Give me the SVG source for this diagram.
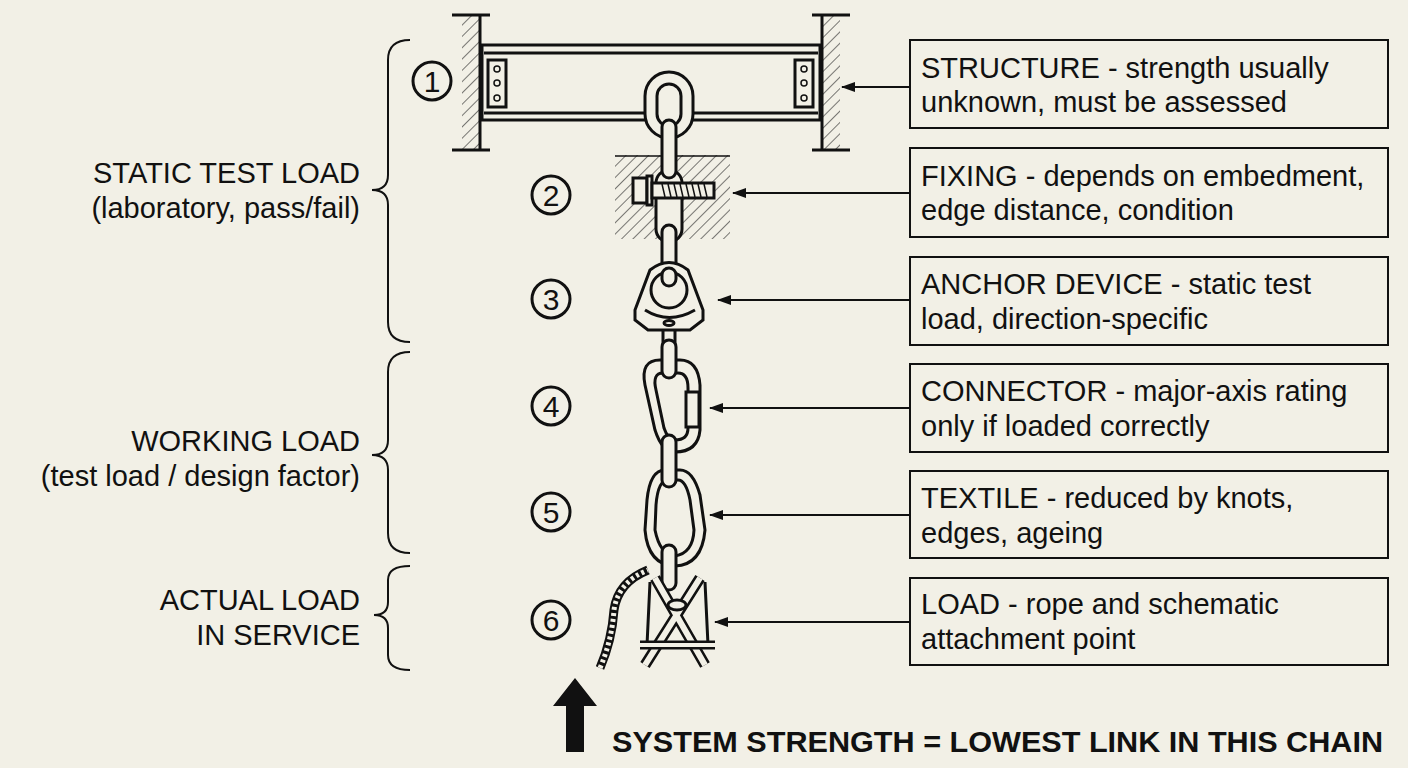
<svg xmlns="http://www.w3.org/2000/svg" width="1408" height="768" viewBox="0 0 1408 768">
<defs>
<pattern id="hatch" patternUnits="userSpaceOnUse" width="8" height="8" patternTransform="rotate(45)"><line x1="0" y1="0" x2="0" y2="8" stroke="#222" stroke-width="1.2"/></pattern>
<marker id="ah" markerWidth="14" markerHeight="10" refX="13" refY="5" orient="auto" markerUnits="userSpaceOnUse"><path d="M0,0 L14,5 L0,10 Z" fill="#111"/></marker>
<style>
.t{font-family:"Liberation Sans",Arial,sans-serif;font-size:29px;fill:#111}
.s{fill:none;stroke:#111;stroke-width:3}
.f{fill:#f2f0e6;stroke:#111;stroke-width:3}
.box{fill:none;stroke:#111;stroke-width:2}
.n{font-family:"Liberation Sans",Arial,sans-serif;font-size:30px;fill:#111;text-anchor:middle}
</style>
</defs>
<rect width="1408" height="768" fill="#f2f0e6"/>
<g id="structure">
<rect x="462" y="15" width="18" height="135" fill="url(#hatch)"/>
<rect x="822" y="15" width="18" height="135" fill="url(#hatch)"/>
<line x1="480" y1="15" x2="480" y2="150" class="s"/>
<line x1="822" y1="15" x2="822" y2="150" class="s"/>
<path d="M452,15 H490 M452,150 H490 M812,15 H850 M812,150 H850" class="s" stroke-width="1.5"/>
<rect x="482" y="45" width="338" height="75" class="f"/>
<path d="M484,53 H818 M484,113 H818" class="s" stroke-width="2"/>
<rect x="488" y="60" width="18" height="47" class="f" stroke-width="2"/>
<rect x="795" y="60" width="18" height="47" class="f" stroke-width="2"/>
<g fill="none" stroke="#111" stroke-width="1.5"><circle cx="497" cy="69" r="3"/><circle cx="497" cy="83" r="3"/><circle cx="497" cy="98" r="3"/><circle cx="804" cy="69" r="3"/><circle cx="804" cy="83" r="3"/><circle cx="804" cy="98" r="3"/></g>
</g>
<g id="fixing">
<rect x="615" y="155" width="115" height="84" fill="url(#hatch)"/>
<line x1="615" y1="156" x2="730" y2="156" stroke="#111" stroke-width="1.5"/>
<rect x="656" y="170" width="26" height="72" rx="13" class="f"/>
</g>
<g id="chain">
<rect x="645" y="72" width="48" height="66" rx="24" class="f"/>
<rect x="657" y="84" width="24" height="42" rx="12" class="f"/>
<rect x="662" y="120" width="14" height="58" rx="7" class="f"/>
<rect x="633" y="178" width="14" height="25" class="f" stroke-width="2"/>
<rect x="647" y="176" width="5" height="29" class="f" stroke-width="2"/>
<rect x="652" y="183" width="62" height="15" class="f" stroke-width="2"/>
<path d="M662,184 l3,13 M668,184 l3,13 M674,184 l3,13 M680,184 l3,13 M686,184 l3,13 M692,184 l3,13 M698,184 l3,13 M704,184 l3,13" stroke="#111" stroke-width="1.5"/>
<rect x="662" y="225" width="14" height="58" rx="7" class="f"/>
</g>
<g id="anchor">
<path d="M650,270 Q669,255 688,270 L703,310 L703,320 L690,330 L648,330 L635,320 L635,310 Z" class="f"/>
<circle cx="669" cy="290" r="18" class="f"/>
<path d="M645,310 Q669,325 695,310" class="s" stroke-width="2"/>
<ellipse cx="669" cy="323" rx="5" ry="2.5" class="s" stroke-width="1.5"/>
<rect x="662" y="268" width="14" height="18" rx="7" class="f"/>
<path d="M663,330 V350 M675,330 V350" class="s"/>
</g>
<g id="connector">
<path d="M660,360 Q640,360 645,385 L655,430 Q662,452 675,452 Q698,452 700,430 L700,385 Q698,360 680,360 Z" class="f"/>
<path d="M663,373 Q652,373 656,390 L664,428 Q668,440 675,440 Q688,440 688,428 L688,388 Q688,373 678,373 Z" class="s" stroke-width="2"/>
<rect x="686" y="392" width="13" height="35" class="f" stroke-width="2"/>
<rect x="662" y="340" width="14" height="38" rx="7" class="f"/>
</g>
<g id="textile">
<path d="M665,470 Q650,470 647,500 L645,530 Q648,565 675,566 Q702,565 705,530 L700,495 Q693,470 680,470 Z" class="f"/>
<path d="M668,480 Q658,480 656,505 L655,530 Q660,555 675,556 Q693,553 694,530 L690,500 Q686,480 678,480 Z" class="s" stroke-width="2"/>
<rect x="662" y="435" width="14" height="52" rx="7" class="f"/>
<rect x="662" y="545" width="14" height="45" rx="7" class="f"/>
</g>
<g id="load">
<path d="M600,668 Q612,640 614,610 Q618,582 648,570" fill="none" stroke="#111" stroke-width="9"/>
<path d="M600,668 Q612,640 614,610 Q618,582 648,570" fill="none" stroke="#f2f0e6" stroke-width="5" stroke-dasharray="3 3"/>
<path d="M650,582 L647,645 M705,582 L708,645" class="s" stroke-width="2.5"/>
<path d="M655,578 L705,665 M700,578 L645,665" stroke="#111" stroke-width="11"/>
<path d="M655,578 L705,665 M700,578 L645,665" stroke="#f2f0e6" stroke-width="6"/>
<path d="M640,645 L715,645" stroke="#111" stroke-width="9"/>
<path d="M640,645 L715,645" stroke="#f2f0e6" stroke-width="4"/>
<ellipse cx="677" cy="605" rx="9" ry="5" class="f" stroke-width="2"/>
</g>
<g id="numbers" class="s" stroke-width="1.5">
<circle cx="432" cy="81" r="19"/><circle cx="551" cy="195" r="19"/><circle cx="551" cy="299" r="19"/><circle cx="551" cy="406" r="19"/><circle cx="551" cy="512" r="19"/><circle cx="551" cy="620" r="19"/>
</g>
<g id="numlabels">
<text class="n" x="432" y="92">1</text><text class="n" x="551" y="206">2</text><text class="n" x="551" y="310">3</text><text class="n" x="551" y="417">4</text><text class="n" x="551" y="523">5</text><text class="n" x="551" y="631">6</text>
</g>
<g id="connectors" fill="none" stroke="#111" stroke-width="1.8" marker-end="url(#ah)">
<line x1="910" y1="87" x2="842" y2="87"/>
<line x1="910" y1="193" x2="733" y2="193"/>
<line x1="910" y1="300" x2="718" y2="300"/>
<line x1="910" y1="408" x2="710" y2="408"/>
<line x1="910" y1="515" x2="710" y2="515"/>
<line x1="910" y1="622" x2="715" y2="622"/>
</g>
<g id="boxes">
<rect class="box" x="910" y="40" width="478" height="88"/>
<rect class="box" x="910" y="148" width="478" height="89"/>
<rect class="box" x="910" y="257" width="478" height="88"/>
<rect class="box" x="910" y="364" width="478" height="88"/>
<rect class="box" x="910" y="471" width="478" height="87"/>
<rect class="box" x="910" y="578" width="478" height="87"/>
<text class="t" x="921" y="78">STRUCTURE - strength usually</text>
<text class="t" x="921" y="112">unknown, must be assessed</text>
<text class="t" x="921" y="186">FIXING - depends on embedment,</text>
<text class="t" x="921" y="220">edge distance, condition</text>
<text class="t" x="921" y="294">ANCHOR DEVICE - static test</text>
<text class="t" x="921" y="329">load, direction-specific</text>
<text class="t" x="921" y="401">CONNECTOR - major-axis rating</text>
<text class="t" x="921" y="436">only if loaded correctly</text>
<text class="t" x="921" y="508">TEXTILE - reduced by knots,</text>
<text class="t" x="921" y="543">edges, ageing</text>
<text class="t" x="921" y="614">LOAD - rope and schematic</text>
<text class="t" x="921" y="649">attachment point</text>
</g>
<g id="braces" fill="none" stroke="#111" stroke-width="2">
<path d="M410,40 Q388,40 388,60 L388,175 Q388,190 372,190 Q388,190 388,205 L388,322 Q388,342 410,342"/>
<path d="M410,352 Q388,352 388,372 L388,440 Q388,455 372,455 Q388,455 388,470 L388,533 Q388,553 410,553"/>
<path d="M410,566 Q388,566 388,580 L388,602 Q388,615 374,615 Q388,615 388,628 L388,655 Q388,670 410,670"/>
</g>
<g id="leftlabels" text-anchor="end">
<text class="t" x="360" y="183">STATIC TEST LOAD</text>
<text class="t" x="360" y="218">(laboratory, pass/fail)</text>
<text class="t" x="360" y="451">WORKING LOAD</text>
<text class="t" x="360" y="486">(test load / design factor)</text>
<text class="t" x="360" y="610">ACTUAL LOAD</text>
<text class="t" x="360" y="645">IN SERVICE</text>
</g>
<g id="footer">
<path d="M575,678 L597,706 L584,706 L584,752 L566,752 L566,706 L553,706 Z" fill="#111"/>
<text x="612" y="752" font-family="'Liberation Sans',Arial,sans-serif" font-weight="bold" font-size="29" fill="#111" textLength="771" lengthAdjust="spacingAndGlyphs">SYSTEM STRENGTH = LOWEST LINK IN THIS CHAIN</text>
</g>
</svg>
